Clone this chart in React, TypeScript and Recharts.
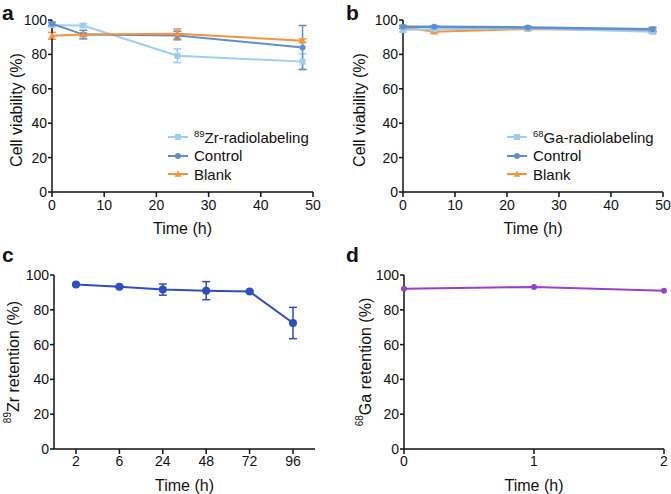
import React from "react";
import { LineChart, Line, XAxis, YAxis, ErrorBar, Legend } from "recharts";

const FONT = '"Liberation Sans", Arial, Helvetica, sans-serif';

// panel a / b: cell viability
const timesAB = [0, 6, 24, 48];
const zrViability = [97, 96.8, 79.2, 75.8];
const zrViabilityErr = [1, 1, 4, 4.5];
const ctrlA = [97.8, 91.5, 91, 84];
const ctrlAErr = [1, 2.5, 2.5, 12.8];
const blankA = [90.8, 91.5, 92, 88];
const blankAErr = [2, 1, 2.8, 1];

const gaViability = [94.2, 94.6, 95.2, 93.2];
const gaViabilityErr = [1.2, 0.8, 0.8, 1.2];
const ctrlB = [96.1, 96.1, 95.7, 94.6];
const ctrlBErr = [0.8, 0.6, 0.6, 1.2];
const blankB = [95.8, 93.2, 94.8, 93.8];
const blankBErr = [0.8, 0.8, 0.8, 0.8];

// panel c: 89Zr retention
const timesC = ["2", "6", "24", "48", "72", "96"];
const zrRetention = [94.6, 93.3, 91.6, 91.0, 90.5, 72.4];
const zrRetentionErr = [0.5, 0.5, 3.2, 5.2, 0.5, 9];

// panel d: 68Ga retention
const timesD = [0, 1, 2];
const gaRetention = [92.1, 93.1, 91.0];

const yTicks = [0, 20, 40, 60, 80, 100];
const xTicksAB = [0, 10, 20, 30, 40, 50];

const LIGHT = "#9dcfee";
const MID = "#5f8fcc";
const ORANGE = "#f7923d";
const C_BLUE = "#2f4fbf";
const PURPLE = "#9b3fcf";
const AXIS = "#111";

const dataA = timesAB.map((t, i) => ({
  t,
  zr: zrViability[i],
  zrErr: zrViabilityErr[i],
  ctrl: ctrlA[i],
  ctrlErr: ctrlAErr[i],
  blank: blankA[i],
  blankErr: blankAErr[i],
}));
const dataB = timesAB.map((t, i) => ({
  t,
  ga: gaViability[i],
  gaErr: gaViabilityErr[i],
  ctrl: ctrlB[i],
  ctrlErr: ctrlBErr[i],
  blank: blankB[i],
  blankErr: blankBErr[i],
}));
const dataC = timesC.map((t, i) => ({ t, v: zrRetention[i], err: zrRetentionErr[i] }));
const dataD = timesD.map((t, i) => ({ t, v: gaRetention[i] }));

const squareDot = (color: string, s = 3) => (p: any) => (
  <rect key={`sq-${p.index}`} x={p.cx - s} y={p.cy - s} width={2 * s} height={2 * s} fill={color} />
);
const circleDot = (color: string, r = 3) => (p: any) => (
  <circle key={`ci-${p.index}`} cx={p.cx} cy={p.cy} r={r} fill={color} />
);
const triDot = (color: string, s = 3.5) => (p: any) => (
  <polygon
    key={`tr-${p.index}`}
    points={`${p.cx},${p.cy - s} ${p.cx - s},${p.cy + s * 0.8} ${p.cx + s},${p.cy + s * 0.8}`}
    fill={color}
  />
);

const tickStyle = { fontSize: 14, fill: AXIS, fontFamily: FONT, stroke: "none" };

const yLabel = (cx: number, cy: number, main: string, sup?: string) => () => (
  <text
    x={cx}
    y={cy}
    transform={`rotate(-90 ${cx} ${cy})`}
    textAnchor="middle"
    dominantBaseline="central"
    fontFamily={FONT}
    fontSize={16}
    fill={AXIS}
    stroke="none"
  >
    {sup ? (
      <tspan fontSize={10} dy={-6}>
        {sup}
      </tspan>
    ) : null}
    <tspan dy={sup ? 6 : 0}>{main}</tspan>
  </text>
);

const xLabel = (offset: number) => (props: any) => {
  const vb = props.viewBox;
  return (
    <text
      x={vb.x + vb.width / 2}
      y={vb.y + offset}
      textAnchor="middle"
      dominantBaseline="central"
      fontFamily={FONT}
      fontSize={16}
      fill={AXIS}
      stroke="none"
    >
      Time (h)
    </text>
  );
};

type LegendItem = { sup?: string; label: string; color: string; shape: "square" | "circle" | "tri" };

const legendContent = (items: LegendItem[]) => () => (
  <div style={{ fontFamily: FONT, fontSize: 15, color: AXIS }}>
    {items.map((it) => (
      <div key={it.label} style={{ display: "flex", alignItems: "center", height: 18.5 }}>
        <svg width={24} height={12} style={{ marginRight: 4 }}>
          <line x1={2} y1={6} x2={22} y2={6} stroke={it.color} strokeWidth={2} />
          {it.shape === "square" ? <rect x={9} y={3} width={6} height={6} fill={it.color} /> : null}
          {it.shape === "circle" ? <circle cx={12} cy={6} r={3} fill={it.color} /> : null}
          {it.shape === "tri" ? <polygon points="12,2.5 8.5,8.8 15.5,8.8" fill={it.color} /> : null}
        </svg>
        <span style={{ whiteSpace: "nowrap" }}>
          {it.sup ? <sup style={{ fontSize: 9.5 }}>{it.sup}</sup> : null}
          {it.label}
        </span>
      </div>
    ))}
  </div>
);

const panelLetter = (letter: string, left: number, top: number) => (
  <div
    style={{
      position: "absolute",
      left,
      top,
      fontFamily: FONT,
      fontWeight: 700,
      fontSize: 21,
      lineHeight: "21px",
      color: AXIS,
    }}
  >
    {letter}
  </div>
);

const axisProps = {
  tickLine: { stroke: AXIS, strokeWidth: 1.5 },
  axisLine: { stroke: AXIS, strokeWidth: 1.5 },
  tick: tickStyle,
};

export default function App() {
  return (
    <div style={{ position: "relative", width: 671, height: 494, background: "#fff", overflow: "hidden" }}>
      <style>{`body{margin:0}`}</style>

      {panelLetter("a", 2, 2)}
      <div style={{ position: "absolute", left: 0, top: 0 }}>
        <LineChart width={335} height={245} data={dataA} margin={{ top: 20, right: 22, bottom: 8, left: 0 }}>
          <XAxis
            dataKey="t"
            type="number"
            domain={[0, 50]}
            ticks={xTicksAB}
            height={45}
            tickSize={5}
            tickMargin={3}
            {...axisProps}
            label={xLabel(36)}
          />
          <YAxis
            domain={[0, 100]}
            ticks={yTicks}
            width={52}
            tickSize={4}
            tickMargin={1}
            {...axisProps}
            label={yLabel(16, 110, "Cell viability (%)")}
          />
          <Legend
            layout="vertical"
            align="center"
            verticalAlign="middle"
            wrapperStyle={{ left: 166, top: 128, width: "auto" }}
            content={legendContent([
              { sup: "89", label: "Zr-radiolabeling", color: LIGHT, shape: "square" },
              { label: "Control", color: MID, shape: "circle" },
              { label: "Blank", color: ORANGE, shape: "tri" },
            ])}
          />
          <Line dataKey="zr" stroke={LIGHT} strokeWidth={2} dot={squareDot(LIGHT)} isAnimationActive={false}>
            <ErrorBar dataKey="zrErr" width={4} stroke={LIGHT} strokeWidth={1.5} direction="y" />
          </Line>
          <Line dataKey="ctrl" stroke={MID} strokeWidth={2} dot={circleDot(MID)} isAnimationActive={false}>
            <ErrorBar dataKey="ctrlErr" width={4} stroke={MID} strokeWidth={1.5} direction="y" />
          </Line>
          <Line dataKey="blank" stroke={ORANGE} strokeWidth={2} dot={triDot(ORANGE)} isAnimationActive={false}>
            <ErrorBar dataKey="blankErr" width={4} stroke={ORANGE} strokeWidth={1.5} direction="y" />
          </Line>
        </LineChart>
      </div>

      {panelLetter("b", 346, 2)}
      <div style={{ position: "absolute", left: 335, top: 0 }}>
        <LineChart width={336} height={245} data={dataB} margin={{ top: 20, right: 8, bottom: 8, left: 0 }}>
          <XAxis
            dataKey="t"
            type="number"
            domain={[0, 50]}
            ticks={xTicksAB}
            height={45}
            tickSize={5}
            tickMargin={3}
            {...axisProps}
            label={xLabel(36)}
          />
          <YAxis
            domain={[0, 100]}
            ticks={yTicks}
            width={68}
            tickSize={4}
            tickMargin={1}
            {...axisProps}
            label={yLabel(24, 110, "Cell viability (%)")}
          />
          <Legend
            layout="vertical"
            align="center"
            verticalAlign="middle"
            wrapperStyle={{ left: 170, top: 128, width: "auto" }}
            content={legendContent([
              { sup: "68", label: "Ga-radiolabeling", color: LIGHT, shape: "square" },
              { label: "Control", color: MID, shape: "circle" },
              { label: "Blank", color: ORANGE, shape: "tri" },
            ])}
          />
          <Line dataKey="blank" stroke={ORANGE} strokeWidth={2} dot={triDot(ORANGE)} isAnimationActive={false}>
            <ErrorBar dataKey="blankErr" width={4} stroke={ORANGE} strokeWidth={1.5} direction="y" />
          </Line>
          <Line dataKey="ga" stroke={LIGHT} strokeWidth={2} dot={squareDot(LIGHT)} isAnimationActive={false}>
            <ErrorBar dataKey="gaErr" width={4} stroke={LIGHT} strokeWidth={1.5} direction="y" />
          </Line>
          <Line dataKey="ctrl" stroke={MID} strokeWidth={2.5} dot={circleDot(MID)} isAnimationActive={false}>
            <ErrorBar dataKey="ctrlErr" width={4} stroke={MID} strokeWidth={1.5} direction="y" />
          </Line>
        </LineChart>
      </div>

      {panelLetter("c", 2, 244)}
      <div style={{ position: "absolute", left: 0, top: 240 }}>
        <LineChart width={335} height={254} data={dataC} margin={{ top: 35, right: 20, bottom: 5, left: 0 }}>
          <XAxis
            dataKey="t"
            type="category"
            padding={{ left: 22, right: 22 }}
            height={40}
            tickSize={5}
            tickMargin={2}
            {...axisProps}
            label={xLabel(36)}
          />
          <YAxis
            domain={[0, 100]}
            ticks={yTicks}
            width={54}
            tickSize={4}
            tickMargin={1}
            {...axisProps}
            label={yLabel(13, 122, "Zr retention (%)", "89")}
          />
          <Line dataKey="v" stroke={C_BLUE} strokeWidth={2} dot={circleDot(C_BLUE, 4)} isAnimationActive={false}>
            <ErrorBar dataKey="err" width={4} stroke={C_BLUE} strokeWidth={1.5} direction="y" />
          </Line>
        </LineChart>
      </div>

      {panelLetter("d", 346, 244)}
      <div style={{ position: "absolute", left: 335, top: 240 }}>
        <LineChart width={336} height={254} data={dataD} margin={{ top: 35, right: 7, bottom: 5, left: 0 }}>
          <XAxis
            dataKey="t"
            type="number"
            domain={[0, 2]}
            ticks={timesD}
            height={40}
            tickSize={5}
            tickMargin={2}
            {...axisProps}
            label={xLabel(36)}
          />
          <YAxis
            domain={[0, 100]}
            ticks={yTicks}
            width={69}
            tickSize={4}
            tickMargin={1}
            {...axisProps}
            label={yLabel(30, 122, "Ga retention (%)", "68")}
          />
          <Line dataKey="v" stroke={PURPLE} strokeWidth={2} dot={circleDot(PURPLE, 3)} isAnimationActive={false} />
        </LineChart>
      </div>
    </div>
  );
}
